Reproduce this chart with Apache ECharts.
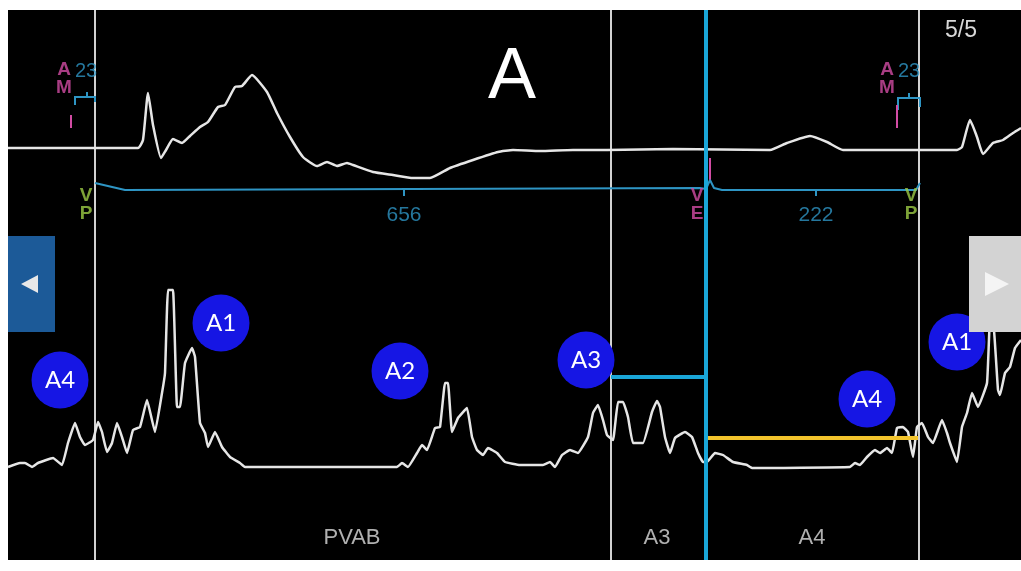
<!DOCTYPE html>
<html lang="en">
<head>
    <meta charset="UTF-8">
    <title>A</title>
    <script src="https://cdn.jsdelivr.net/npm/echarts@6/dist/echarts.min.js"></script>
    <style>
        html, body { margin: 0; padding: 0; background: #fff; }
        #charts { width: 1021px; height: 571px; }
    </style>
</head>
<body>
<div id="charts"></div>
<script>
    // upper trace (EGM), [sample, amplitude]
    var egmTrace = [[0,412],[130,412],[135,420],[140,467],[145,435],[153,402],[158,410],[165,421],[174,417],[182,424],
        [192,433],[200,438],[210,453],[217,455],[227,473],[234,474],[244,485],[259,468],[269,447],[282,423],
        [295,403],[309,394],[319,398],[329,394],[339,397],[345,395],[365,388],[385,385],[405,382],[422,382],
        [442,392],[465,400],[490,408],[505,410],[532,409],[565,410],[599,410],[665,411],[762,410],[779,417],
        [802,424],[819,418],[835,410],[949,410],[954,413],[962,440],[969,423],[975,406],[985,417],[995,420],
        [1005,427],[1013,432]];

    // lower trace
    var flowTrace = [[0,93],[12,97],[17,97],[24,93],[30,97],[45,102],[54,95],[60,117],[67,137],[72,123],[77,115],
        [85,120],[90,138],[94,128],[99,108],[104,117],[109,137],[114,123],[119,107],[125,130],[132,133],[139,160],
        [147,128],[154,167],[157,187],[160,270],[165,270],[169,153],[172,153],[177,197],[184,212],[187,203],
        [192,137],[197,127],[200,113],[207,128],[214,113],[222,103],[232,97],[237,93],[389,93],[394,97],[400,93],
        [409,107],[414,115],[419,110],[427,132],[432,133],[437,177],[440,177],[444,128],[450,142],[459,152],
        [464,123],[469,110],[475,105],[480,112],[489,107],[497,98],[512,95],[535,95],[542,98],[547,93],[554,105],
        [562,110],[570,107],[580,123],[585,147],[590,155],[595,140],[599,125],[605,120],[610,158],[615,158],
        [620,143],[625,117],[635,117],[644,148],[649,159],[652,153],[657,123],[662,107],[667,122],[677,128],
        [684,123],[690,107],[695,98],[699,98],[707,107],[715,105],[725,98],[739,95],[744,92],[842,93],[847,97],
        [852,95],[859,103],[867,110],[872,107],[879,112],[884,107],[889,132],[895,133],[900,128],[905,103],
        [909,133],[914,137],[920,123],[925,117],[934,140],[939,127],[942,117],[949,98],[954,133],[959,147],
        [964,167],[970,153],[979,177],[982,240],[985,240],[990,170],[992,165],[997,187],[1002,193],[1007,212],
        [1013,220]];

    // marker channel line
    var markerTrace = [[87,377],[117,370],[692,372],[698,371],[702,380],[706,372],[714,370],[908,370],[912,377]];

    var intervalText = ['656', '222'];
    var intervalX = [396, 808];

    var eventTop = ['V', 'V', 'V'];
    var eventBottom = ['P', 'E', 'P'];
    var eventX = [78, 689, 903];

    var senseX = [55, 878];
    var senseValue = ['23', '23'];

    var cursorX = [87, 603, 911];
    var activeCursor = 698;
    var a3Bar = [603, 698, 183];
    var a4Bar = [698, 910, 122];

    var circleNames = ['A4', 'A1', 'A2', 'A3', 'A4', 'A1'];
    var circleX = [52, 213, 392, 578, 859, 949];
    var circleY = [180, 237, 189, 200, 161, 218];

    var phaseNames = ['PVAB', 'A3', 'A4'];
    var phaseX = [344, 649, 804];

    var myChart = echarts.init(document.getElementById('charts'));

    var white = '#e6e6e6';
    var cyan = '#2e95c4';
    var pink = '#d24ca4';
    var green = '#9ccb45';

    function textPoint(x, y, text, color, size, bold) {
        return {
            value: [x, y],
            label: {
                show: true, formatter: text, position: 'inside', color: color,
                fontSize: size, fontWeight: bold ? 'bold' : 'normal',
                textBorderWidth: 0,
                fontFamily: 'Liberation Sans, Arial, sans-serif'
            }
        };
    }

    var texts = [];
    for (var i = 0; i < intervalText.length; i++) {
        texts.push(textPoint(intervalX[i], 345, intervalText[i], cyan, 21, false));
    }
    for (var i = 0; i < eventX.length; i++) {
        var c = eventBottom[i] === 'E' ? pink : green;
        texts.push(textPoint(eventX[i], 364, eventTop[i], c, 19, true));
        texts.push(textPoint(eventX[i], 346, eventBottom[i], c, 19, true));
    }
    for (var i = 0; i < senseX.length; i++) {
        texts.push(textPoint(senseX[i] + 1, 490, 'A', pink, 19, true));
        texts.push(textPoint(senseX[i] + 1, 472, 'M', pink, 19, true));
        texts.push(textPoint(senseX[i] + 23, 489, senseValue[i], cyan, 20, false));
    }
    for (var i = 0; i < phaseNames.length; i++) {
        texts.push(textPoint(phaseX[i], 22, phaseNames[i], '#dcdcdc', 22, false));
    }

    // small brackets / ticks of the marker channel
    var markerLines = [
        {coords: [[67,455],[67,463],[87,463],[87,458]]},
        {coords: [[79,463],[79,468]]},
        {coords: [[890,450],[890,462],[912,462],[912,453]]},
        {coords: [[901,462],[901,467]]},
        {coords: [[intervalX[0],370],[intervalX[0],364]]},
        {coords: [[intervalX[1],370],[intervalX[1],364]]}
    ];
    var pinkTicks = [
        {coords: [[63,445],[63,432]]},
        {coords: [[889,455],[889,432]]},
        {coords: [[702,402],[702,378]]}
    ];

    var cursorLines = [];
    for (var i = 0; i < cursorX.length; i++) {
        cursorLines.push({coords: [[cursorX[i], 0], [cursorX[i], 550]]});
    }

    var circles = [];
    for (var i = 0; i < circleNames.length; i++) {
        circles.push({name: circleNames[i], value: [circleX[i], circleY[i]]});
    }

    var option = {
        animation: false,
        grid: {
            left: 8, right: 0, top: 10, bottom: 11,
            show: true, backgroundColor: '#000', borderWidth: 0
        },
        xAxis: {type: 'value', min: 0, max: 1013, show: false},
        yAxis: {type: 'value', min: 0, max: 550, show: false},
        series: [
            {
                type: 'lines', coordinateSystem: 'cartesian2d', polyline: true, z: 2,
                lineStyle: {color: '#d2d2d2', width: 2, opacity: 1},
                data: cursorLines
            },
            {
                type: 'line', data: egmTrace, symbol: 'none', z: 3, smooth: 0.15,
                lineStyle: {color: white, width: 2.5, join: 'round'}
            },
            {
                type: 'line', data: flowTrace, symbol: 'none', z: 3, smooth: 0.1,
                lineStyle: {color: white, width: 2.5, join: 'round'}
            },
            {
                type: 'line', data: markerTrace, symbol: 'none', z: 3,
                lineStyle: {color: cyan, width: 2}
            },
            {
                type: 'lines', coordinateSystem: 'cartesian2d', polyline: true, z: 3,
                lineStyle: {color: cyan, width: 2, opacity: 1},
                data: markerLines
            },
            {
                type: 'lines', coordinateSystem: 'cartesian2d', polyline: true, z: 3,
                lineStyle: {color: pink, width: 2, opacity: 1},
                data: pinkTicks
            },
            {
                type: 'scatter', symbolSize: 1, z: 4,
                itemStyle: {color: 'rgba(0,0,0,0)'},
                data: texts
            },
            {
                type: 'lines', coordinateSystem: 'cartesian2d', polyline: true, z: 5,
                lineStyle: {width: 4, opacity: 1},
                data: [
                    {coords: [[a3Bar[0], a3Bar[2]], [a3Bar[1], a3Bar[2]]], lineStyle: {color: '#1aa6d8'}},
                    {coords: [[a4Bar[0], a4Bar[2]], [a4Bar[1], a4Bar[2]]], lineStyle: {color: '#f3c42c'}},
                    {coords: [[activeCursor, 0], [activeCursor, 550]], lineStyle: {color: '#1aa6d8'}}
                ]
            },
            {
                type: 'scatter', symbolSize: 57, z: 6,
                itemStyle: {color: '#1616e4', opacity: 1},
                label: {
                    show: true, position: 'inside', formatter: '{b}',
                    color: '#fff', fontSize: 24, fontFamily: 'Lato, sans-serif'
                },
                data: circles
            }
        ],
        graphic: [
            {
                type: 'text', left: 488, top: 42, z: 10,
                style: {text: 'A', fill: '#fff', font: '72px "Liberation Sans", Arial, sans-serif'}
            },
            {
                type: 'text', left: 945, top: 19, z: 10,
                style: {text: '5/5', fill: '#d8d8d8', font: '23px "Liberation Sans", Arial, sans-serif'}
            },
            {
                type: 'rect', z: 10,
                shape: {x: 8, y: 236, width: 47, height: 96},
                style: {fill: '#1c5a98'}
            },
            {
                type: 'polygon', z: 11,
                shape: {points: [[38, 275], [38, 293], [21, 284]]},
                style: {fill: '#e8e8e8'}
            },
            {
                type: 'rect', z: 10,
                shape: {x: 969, y: 236, width: 52, height: 96},
                style: {fill: '#d3d3d3'}
            },
            {
                type: 'polygon', z: 11,
                shape: {points: [[985, 272], [985, 296], [1009, 284]]},
                style: {fill: '#f4f4f4'}
            }
        ]
    };

    myChart.setOption(option);
</script>
</body>
</html>
